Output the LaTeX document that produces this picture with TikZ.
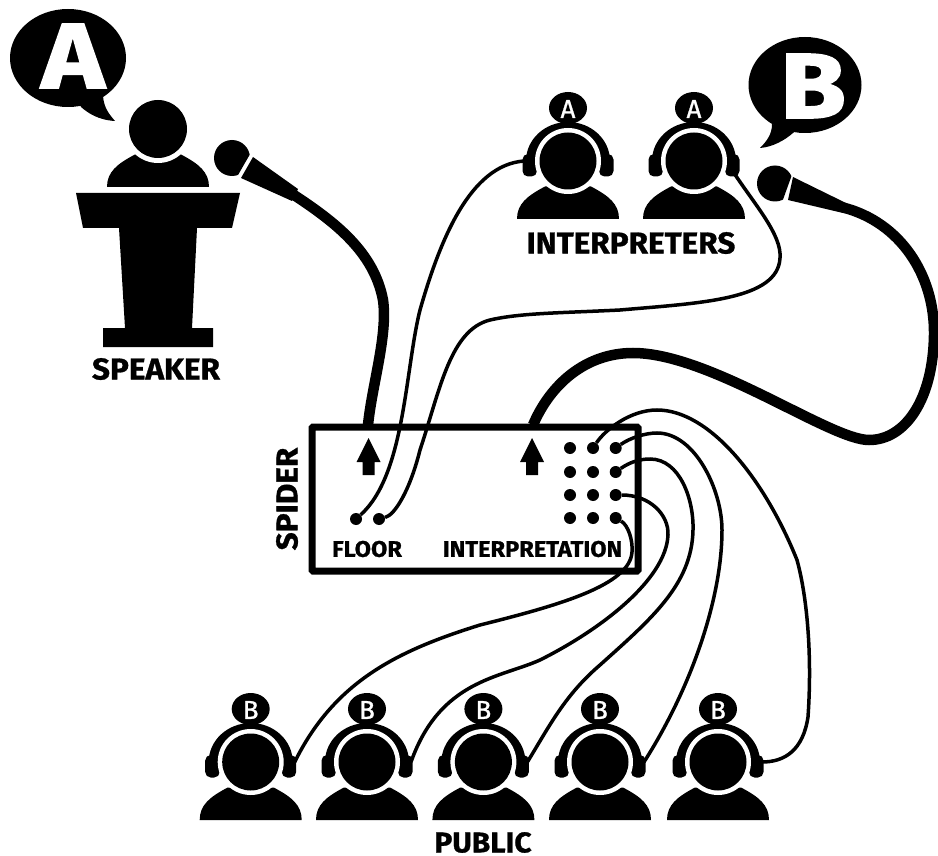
\documentclass[tikz,border=0pt]{standalone}
\usepackage{fontspec}
\setmainfont{Fira Sans}[BoldFeatures={FakeBold=1.0,FakeStretch=1.05}]
\newfontfamily\tagfont{Fira Sans}[FakeBold=1.0]
\newfontfamily\bigfont{Fira Sans Bold}[FakeBold=2.0,FakeStretch=1.16]
\tikzset{
  lab/.style={inner sep=0pt,font=\fontsize{#1}{#1}\selectfont\bfseries},
  port/.style={circle,fill=black,inner sep=0pt,minimum size=12pt},
  wire/.style={line width=3.5pt},
  cable/.style={line width=10.5pt},
  smalltag/.style={inner sep=0pt,text=white,font=\fontsize{26}{26}\selectfont\tagfont},
  bigtag/.style={inner sep=0pt,text=white,font=\fontsize{92}{92}\selectfont\bigfont}
}
% torso and head of a figure, local origin = head centre
\newcommand\figbody{%
  \fill (-51,58) .. controls (-51,43) and (-41,35) .. (-23,25.5) -- (23,25.5) .. controls (41,35) and (51,43) .. (51,58) -- cycle;
}
\newcommand\hearer[4]{%
  \begin{scope}[shift={(#1,#2)}]
    \figbody
    \begin{scope}
      \clip (-50,-50) rectangle (50,6);
      \fill (0,0) ellipse [x radius=42pt,y radius=39pt];
    \end{scope}
    \fill[rounded corners=5.5pt] (-45.5,-7) rectangle (-31,15.5);
    \fill[rounded corners=5.5pt] (45.5,-7) rectangle (31,15.5);
    \fill[white] (0,0) circle [radius=33pt];
    \fill (0,0) circle [radius=28.5pt];
    \fill (0,-53) ellipse [x radius=19pt,y radius=16pt];
    \node[smalltag] (#4-tag) at (0,-52) {#3};
    \coordinate (#4-left) at (-44,0);
    \coordinate (#4-right) at (44,0);
    \coordinate (#4-cup) at (40,12);
  \end{scope}
}
\begin{document}
\begin{tikzpicture}[x=1pt,y=-1pt]
\useasboundingbox (0,0) rectangle (938,856);

% speech bubble A
\fill (68,58) ellipse [x radius=58pt,y radius=49pt];
\fill (78,100) -- (81,107) .. controls (88,113) and (98,120) .. (115,121) .. controls (109,114) and (104,108) .. (103,96) -- cycle;
\node[bigtag] (bubbleA) at (73,56) {A};

% speaker and lectern
\begin{scope}[shift={(158,129)}]
  \figbody
  \fill[white] (0,0) circle [radius=34pt];
  \fill (0,0) circle [radius=29pt];
\end{scope}
\fill (76,193) -- (240,193) -- (232,228) -- (197,228) -- (192,328) -- (213,328) -- (213,347) -- (103,347) -- (103,328) -- (125,328) -- (119,228) -- (83,228) -- cycle;
\node[lab=30] (speaker) at (156,369) {SPEAKER};

% speaker microphone
\begin{scope}
  \clip (256.4,143) -- (230,189) -- (190,189) -- (190,120) -- (256.4,120) -- cycle;
  \fill (232,158) circle [radius=18pt];
\end{scope}
\fill (253,157) -- (241,178) -- (292,201) -- (298,189) -- cycle;
\coordinate (micA) at (294,195);

% speech bubble B
\fill (805,85) ellipse [x radius=56.5pt,y radius=48pt];
\fill (795,131) -- (793,133) .. controls (785,140) and (773,147) .. (760,148) .. controls (767,141) and (772,134) .. (772,124) -- cycle;
\node[bigtag] (bubbleB) at (813,86) {B};

% interpreter microphone
\begin{scope}
  \clip (798,158) -- (776,219) -- (740,219) -- (740,150) -- (798,150) -- cycle;
  \fill (775,183.5) circle [radius=18pt];
\end{scope}
\fill (793,177) -- (788,200) -- (843,213) -- (846,203) -- cycle;
\coordinate (micB) at (843,207.5);

% interpreters
\hearer{568}{161}{A}{ia}
\hearer{694}{161}{A}{ib}
\node[lab=30] (interpreters) at (631,243) {INTERPRETERS};

% public
\hearer{250.7}{762}{B}{pa}
\hearer{367}{762}{B}{pb}
\hearer{483.4}{762}{B}{pc}
\hearer{600}{762}{B}{pd}
\hearer{718}{762}{B}{pe}
\node[lab=28.5] (public) at (483,842.5) {PUBLIC};

% spider box
\node[draw,line width=7pt,rounded corners=1pt,minimum width=326pt,minimum height=144pt,inner sep=0pt] (spider) at (475,499) {};
\node[lab=30,rotate=90] (spiderlabel) at (287,499) {SPIDER};
\node[lab=22.5] (floorlabel) at (367,549) {FLOOR};
\node[lab=22.5] (interplabel) at (532.5,549) {INTERPRETATION};

% up arrows
\fill (368.5,438) -- (380.5,462) -- (374.5,462) -- (374.5,475) -- (362.5,475) -- (362.5,462) -- (356.5,462) -- cycle;
\fill (532,438) -- (544,462) -- (538,462) -- (538,475) -- (526,475) -- (526,462) -- (520,462) -- cycle;
\coordinate (inA) at (368,425);
\coordinate (inB) at (533,425);

% ports
\node[port] (fa) at (356,519) {};
\node[port] (fb) at (379,519) {};
\foreach \c/\x in {a/570,b/593,c/615.7}
  \foreach \r/\y in {1/448,2/472,3/495,4/518}
    \node[port] (g\c\r) at (\x,\y) {};

% thick cables
\draw[cable] (micA) .. controls (335,222) and (374,252) .. (383,300) .. controls (388,335) and (372,385) .. (inA);
\draw[cable] (micB) .. controls (900,222) and (935,275) .. (934,335) .. controls (933,400) and (905,440) .. (869,440) .. controls (830,440) and (710,353) .. (633,353) .. controls (585,353) and (550,385) .. (inB);

% thin wires
\draw[wire] (ia-left) .. controls (470,165) and (440,240) .. (420,310) .. controls (405,370) and (405,475) .. (fa);
\draw[wire] (ib-cup) .. controls (755,205) and (782,235) .. (780,258) .. controls (778,300) and (700,303) .. (620,310) .. controls (560,313) and (520,313) .. (490,320) .. controls (450,330) and (440,390) .. (420,450) .. controls (410,490) and (395,515) .. (fb);
\draw[wire] (gb1) .. controls (605,430) and (630,410) .. (657,410) .. controls (710,410) and (765,480) .. (797,560) .. controls (808,600) and (812,660) .. (808,717) .. controls (803,750) and (785,762) .. (pe-right);
\draw[wire] (gc1) .. controls (630,438) and (645,433) .. (657,433) .. controls (695,433) and (722,490) .. (722,530) .. controls (722,600) and (690,690) .. (pd-right);
\draw[wire] (gc2) .. controls (630,462) and (640,459) .. (650,459) .. controls (680,459) and (694,500) .. (693,530) .. controls (692,585) and (650,620) .. (600,665) .. controls (565,695) and (550,725) .. (pc-right);
\draw[wire] (gc3) .. controls (650,495) and (669,515) .. (668,535) .. controls (666,580) and (600,630) .. (540,660) .. controls (500,678) and (440,680) .. (pb-right);
\draw[wire] (gc4) .. controls (628,525) and (633,540) .. (632,552) .. controls (630,585) and (560,605) .. (480,625) .. controls (400,650) and (335,680) .. (pa-right);
\end{tikzpicture}
\end{document}
